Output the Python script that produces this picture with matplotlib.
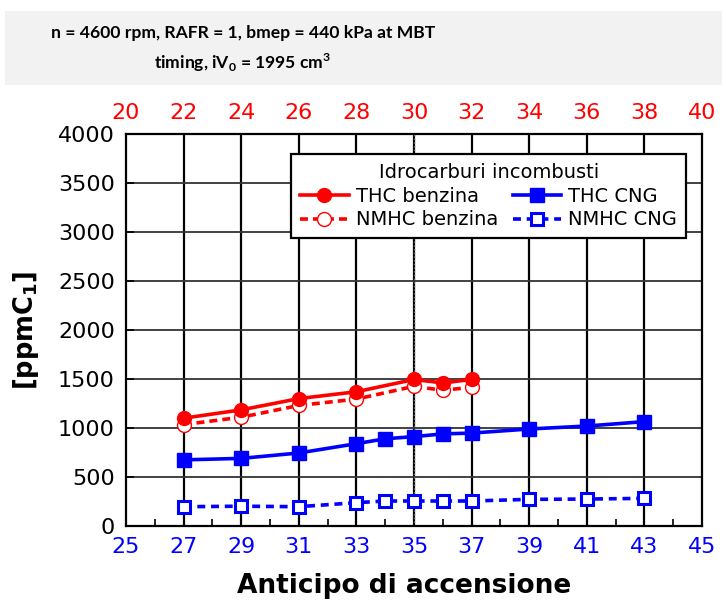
import matplotlib
matplotlib.use("Agg")
import matplotlib.pyplot as plt
from matplotlib.patches import Rectangle

plt.rcParams['font.family'] = ['DejaVu Sans']
plt.rcParams['mathtext.rm'] = 'Lato'
plt.rcParams['mathtext.bf'] = 'Lato:bold'

# Spark advance (bottom axis) and measured unburned hydrocarbons [ppmC1]
adv_benzina = [27, 29, 31, 33, 35, 36, 37]
thc_benzina = [1100, 1185, 1300, 1370, 1495, 1460, 1495]
nmhc_benzina = [1035, 1110, 1230, 1295, 1425, 1385, 1415]

adv_cng = [27, 29, 31, 33, 34, 35, 36, 37, 39, 41, 43]
thc_cng = [675, 690, 745, 840, 890, 912, 940, 948, 990, 1020, 1065]
nmhc_cng = [197, 202, 197, 238, 255, 255, 255, 255, 272, 275, 282]

bottom_ticks = list(range(25, 46, 2))
top_ticks = list(range(20, 41, 2))
y_ticks = list(range(0, 4001, 500))

fig = plt.figure(figsize=(7.26, 6.03), dpi=100)

# header box
head_font = ['Lato', 'DejaVu Sans']
fig.patches.append(Rectangle((5 / 726, 1 - 85 / 603), 717 / 726, 74 / 603,
                             transform=fig.transFigure, facecolor='#f2f2f2',
                             edgecolor='none', zorder=0))
fig.text(243 / 726, 1 - 33 / 603, "n = 4600 rpm, RAFR = 1, bmep = 440 kPa at MBT",
         ha='center', va='center', fontsize=12.6, fontweight='bold',
         family=head_font)
fig.text(243 / 726, 1 - 63 / 603,
         r"timing, iV$_\mathbf{0}$ = 1995 cm$^\mathbf{3}$",
         ha='center', va='center', fontsize=12.6, fontweight='bold',
         family=head_font, math_fontfamily='custom')

ax = fig.add_axes([126 / 726, 77 / 603, 576 / 726, 392 / 603])
ax.set_xlim(25, 45)
ax.set_ylim(0, 4000)

# grid
for x in range(27, 44, 2):
    ax.axvline(x, color='black', lw=1.6, zorder=1)
for y in y_ticks[1:-1]:
    ax.axhline(y, color='#333333', lw=1.3, zorder=1)
ax.axvline(35, color='#777777', lw=1.0, ls=':', zorder=1.5)

ax.plot(adv_benzina, thc_benzina, color='red', lw=2.6, marker='o',
        ms=10, mfc='red', mec='red', zorder=4, label='THC benzina')
ax.plot(adv_benzina, nmhc_benzina, color='red', lw=2.6, ls=(0, (2.2, 1.4)),
        marker='o', ms=10, mfc='white', mec='red', mew=1.0, zorder=3,
        label='NMHC benzina')
ax.plot(adv_cng, thc_cng, color='blue', lw=2.6, marker='s',
        ms=10, mfc='blue', mec='blue', zorder=4, label='THC CNG')
ax.plot(adv_cng, nmhc_cng, color='blue', lw=2.6, ls=(0, (2.2, 1.6)),
        marker='s', ms=8.5, mfc='white', mec='blue', mew=2.2, zorder=4,
        label='NMHC CNG')

ax.set_xticks(bottom_ticks)
ax.set_xticks(list(range(26, 45, 2)), minor=True)
ax.set_yticks(y_ticks)
ax.tick_params(axis='x', which='major', direction='in', length=0,
               labelcolor='blue', labelsize=16, pad=8)
ax.tick_params(axis='x', which='minor', direction='in', length=5, width=1.2)
ax.tick_params(axis='y', direction='in', length=6, width=1.2,
               labelsize=16, pad=8)
for s in ax.spines.values():
    s.set_linewidth(1.6)

ax.set_xlabel("Anticipo di accensione", fontsize=19, fontweight='bold',
              labelpad=10)
ax.xaxis.set_label_coords((404 - 126) / 576, -0.12)
ax.set_ylabel(r"[ppmC$_\mathbf{1}$]", fontsize=18.5, fontweight='bold',
              labelpad=12, math_fontfamily='dejavusans')

top = ax.twiny()
top.set_xlim(20, 40)
top.set_xticks(top_ticks)
top.tick_params(axis='x', direction='in', length=0, labelcolor='red',
                labelsize=16, pad=8)
for s in top.spines.values():
    s.set_visible(False)

leg = ax.legend(title="Idrocarburi incombusti", ncol=2, loc='upper right',
                bbox_to_anchor=(0.972, 0.949), fontsize=14,
                title_fontsize=14, frameon=True, fancybox=False,
                framealpha=1, edgecolor='black', handlelength=2.5,
                handletextpad=0.36, columnspacing=0.75, labelspacing=0.25,
                borderpad=0.45, borderaxespad=0)
leg.get_frame().set_linewidth(1.6)
leg.set_zorder(10)

fig.savefig("out.png", dpi=100)
